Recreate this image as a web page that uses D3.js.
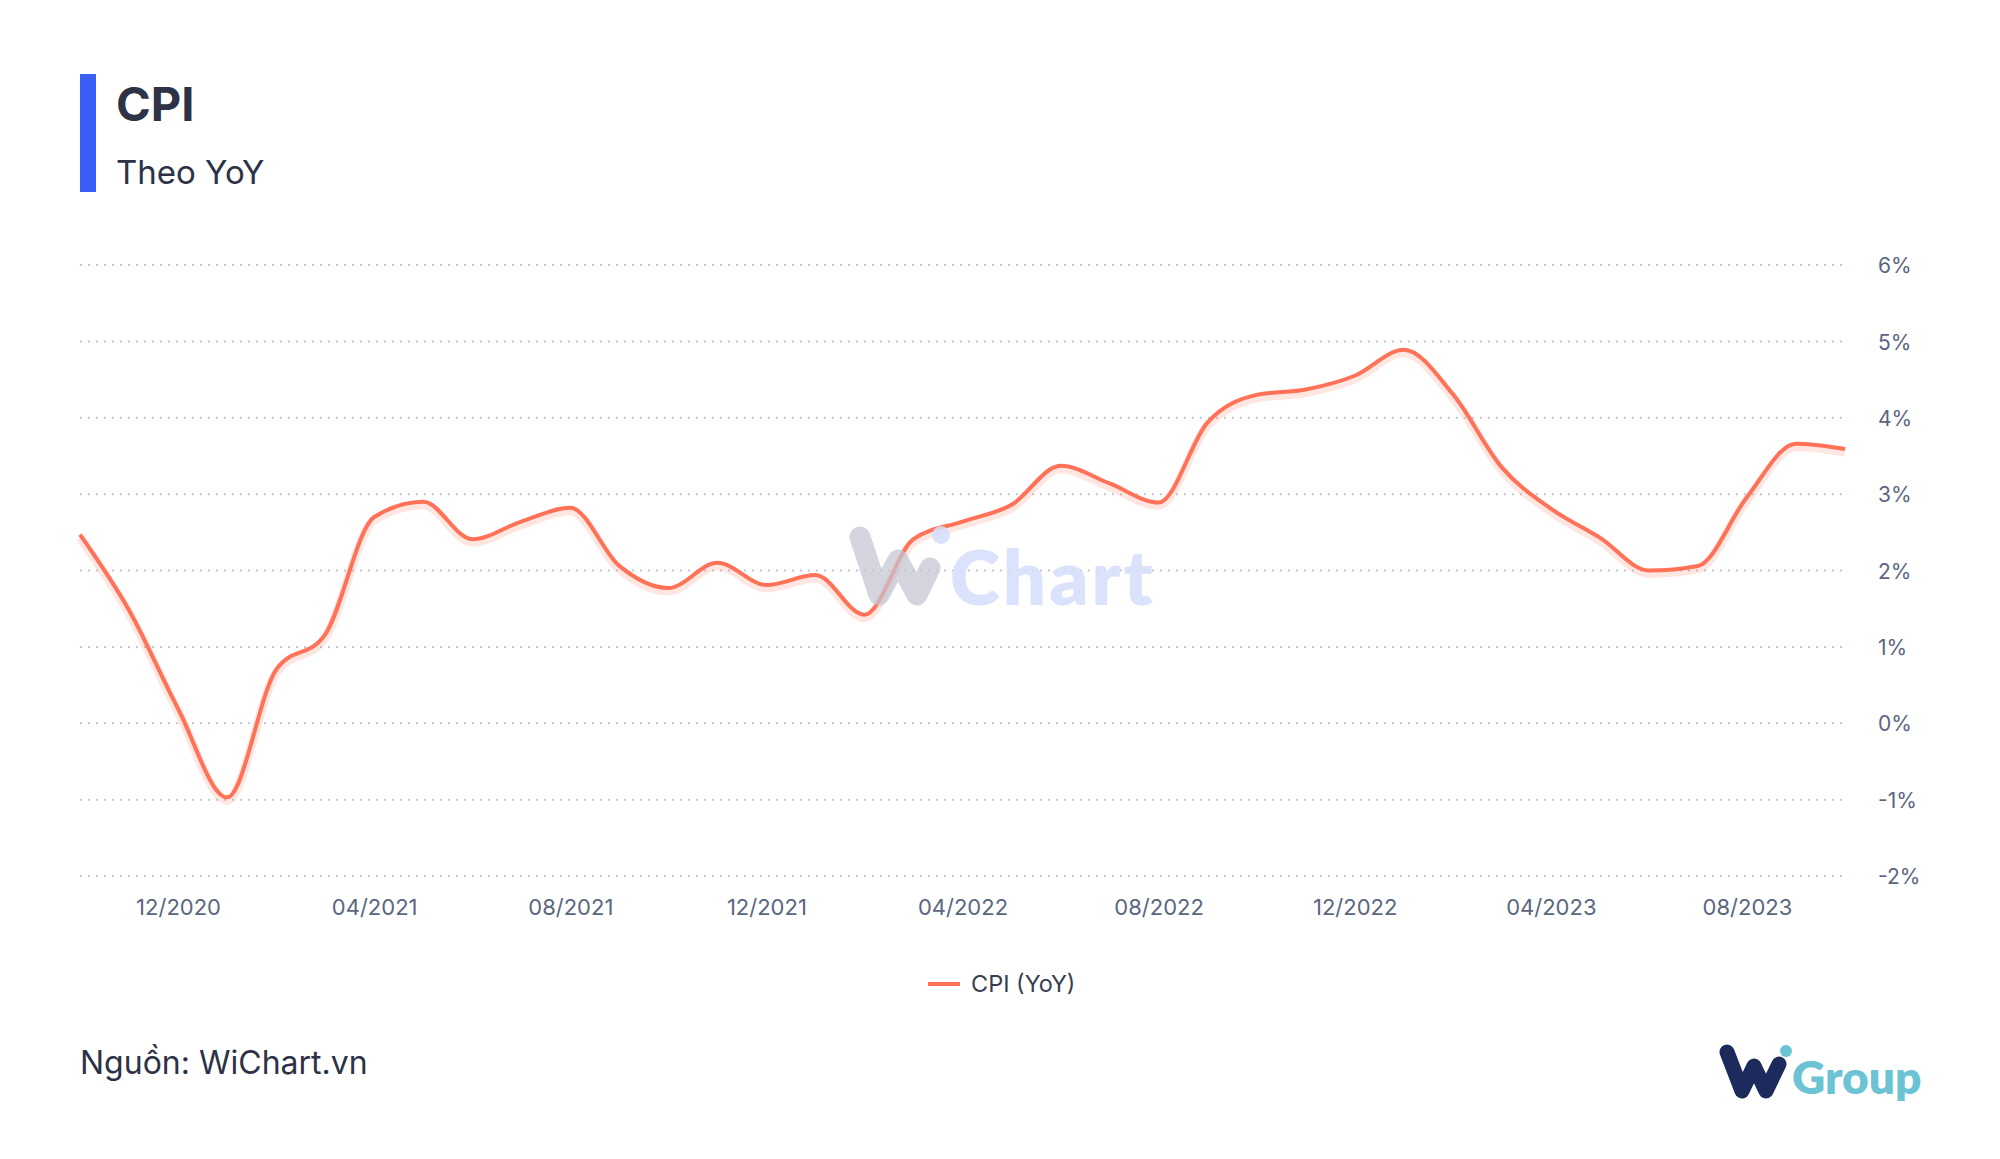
<!DOCTYPE html>
<html><head><meta charset="utf-8">
<script src="https://cdn.jsdelivr.net/npm/d3@7"></script>
<style>
html,body{margin:0;padding:0;background:#fff;}
svg{display:block;font-family:Inter,"Noto Sans",sans-serif;}
</style></head>
<body><svg id="chart" width="2000" height="1159"></svg>
<script>
const months = ["10/2020","11/2020","12/2020","01/2021","02/2021","03/2021","04/2021","05/2021","06/2021","07/2021","08/2021","09/2021","10/2021","11/2021","12/2021","01/2022","02/2022","03/2022","04/2022","05/2022","06/2022","07/2022","08/2022","09/2022","10/2022","11/2022","12/2022","01/2023","02/2023","03/2023","04/2023","05/2023","06/2023","07/2023","08/2023","09/2023","10/2023"];
const cpiYoY = [2.47,1.48,0.19,-0.97,0.70,1.16,2.70,2.90,2.41,2.64,2.82,2.06,1.77,2.10,1.81,1.94,1.42,2.41,2.64,2.86,3.37,3.14,2.89,3.94,4.30,4.37,4.55,4.89,4.31,3.35,2.81,2.43,2.00,2.06,2.96,3.66,3.59];
const xTickLabels = ["12/2020","04/2021","08/2021","12/2021","04/2022","08/2022","12/2022","04/2023","08/2023"];
const yTicks = [-2,-1,0,1,2,3,4,5,6];
const seriesName = "CPI (YoY)";

(function(){
const svg = d3.select("#chart");
const pLeft = 80, pRight = 1845, pTop = 265, pBottom = 876;
const x = d3.scalePoint().domain(months).range([pLeft, pRight]);
const y = d3.scaleLinear().domain([-2, 6]).range([pBottom, pTop]);

// Title block
svg.append("rect").attr("x",80).attr("y",74).attr("width",16).attr("height",118).attr("fill","#3a5ff8");
svg.append("text").attr("x",116).attr("y",121).attr("font-size",47).attr("font-weight",700).attr("fill","#2d3246").text("CPI");
svg.append("text").attr("x",116).attr("y",184).attr("font-size",33).attr("fill","#2d3246").text("Theo YoY");

// Grid
const grid = svg.append("g");
grid.selectAll("line").data(yTicks).join("line")
  .attr("x1",pLeft).attr("x2",1843)
  .attr("y1",d=>y(d)).attr("y2",d=>y(d))
  .attr("stroke","#c3c8d4").attr("stroke-width",2).attr("stroke-dasharray","2,6");

// Y axis labels (right)
const yAxis = d3.axisRight(y).tickValues(yTicks).tickFormat(d=>d+"%").tickSize(0).tickPadding(0);
const ya = svg.append("g").attr("transform","translate(1878,1)").call(yAxis);
ya.select(".domain").remove();
ya.selectAll("text").attr("font-size",21).attr("fill","#5b6680").attr("font-family","Inter,sans-serif").attr("text-anchor","start");

// X axis labels
const xAxis = d3.axisBottom(x).tickValues(xTickLabels).tickSize(0).tickPadding(0);
const xa = svg.append("g").attr("transform","translate(0,899)").call(xAxis);
xa.select(".domain").remove();
xa.selectAll("text").attr("font-size",22).attr("fill","#5b6680").attr("font-family","Inter,sans-serif");

// Line
const line = d3.line().x((d,i)=>x(months[i])).y(d=>y(d)).curve(d3.curveMonotoneX);
svg.append("path").datum(cpiYoY).attr("d",line).attr("fill","none")
  .attr("stroke","#ff7257").attr("stroke-opacity",0.18).attr("stroke-width",9)
  .attr("transform","translate(0,3)").attr("stroke-linejoin","round");
svg.append("path").datum(cpiYoY).attr("d",line).attr("fill","none")
  .attr("stroke","#ff7257").attr("stroke-width",4).attr("stroke-linejoin","round");

// Watermark
const wm = svg.append("g").attr("opacity",0.85);
wm.append("path").attr("d","M860,537 L879,595 L898,560 L917,595 L930,568")
  .attr("fill","none").attr("stroke","#c4c5d3").attr("stroke-opacity",0.85).attr("stroke-width",21)
  .attr("stroke-linecap","round").attr("stroke-linejoin","round");
wm.append("circle").attr("cx",941).attr("cy",535).attr("r",9).attr("fill","#d5ddfb");
wm.append("text").attr("x",950).attr("y",605).attr("font-size",76).attr("font-weight",800).attr("letter-spacing",3)
  .attr("fill","#d5ddfb").attr("font-family","Lato,Inter,sans-serif").text("Chart");

// Legend
svg.append("line").attr("x1",928).attr("x2",960).attr("y1",984).attr("y2",984).attr("stroke","#ff7257").attr("stroke-width",4);
svg.append("text").attr("x",971).attr("y",992).attr("font-size",23.5).attr("fill","#383e50").text(seriesName);

// Source
svg.append("text").attr("x",80).attr("y",1074).attr("font-size",32).attr("fill","#2d3246").text("Nguồn: WiChart.vn");

// Logo
const lg = svg.append("g");
lg.append("path").attr("d","M1727,1052 L1742,1091 L1754,1066 L1766,1091 L1779,1064")
  .attr("fill","none").attr("stroke","#1c2b5b").attr("stroke-width",15)
  .attr("stroke-linecap","round").attr("stroke-linejoin","round");
lg.append("circle").attr("cx",1786).attr("cy",1051).attr("r",6).attr("fill","#6bc3d4");
lg.append("text").attr("x",1792).attr("y",1094).attr("font-size",46).attr("font-weight",800)
  .attr("fill","#6bc3d4").attr("font-family","Lato,Inter,sans-serif").text("Group");
})();
</script></body></html>
